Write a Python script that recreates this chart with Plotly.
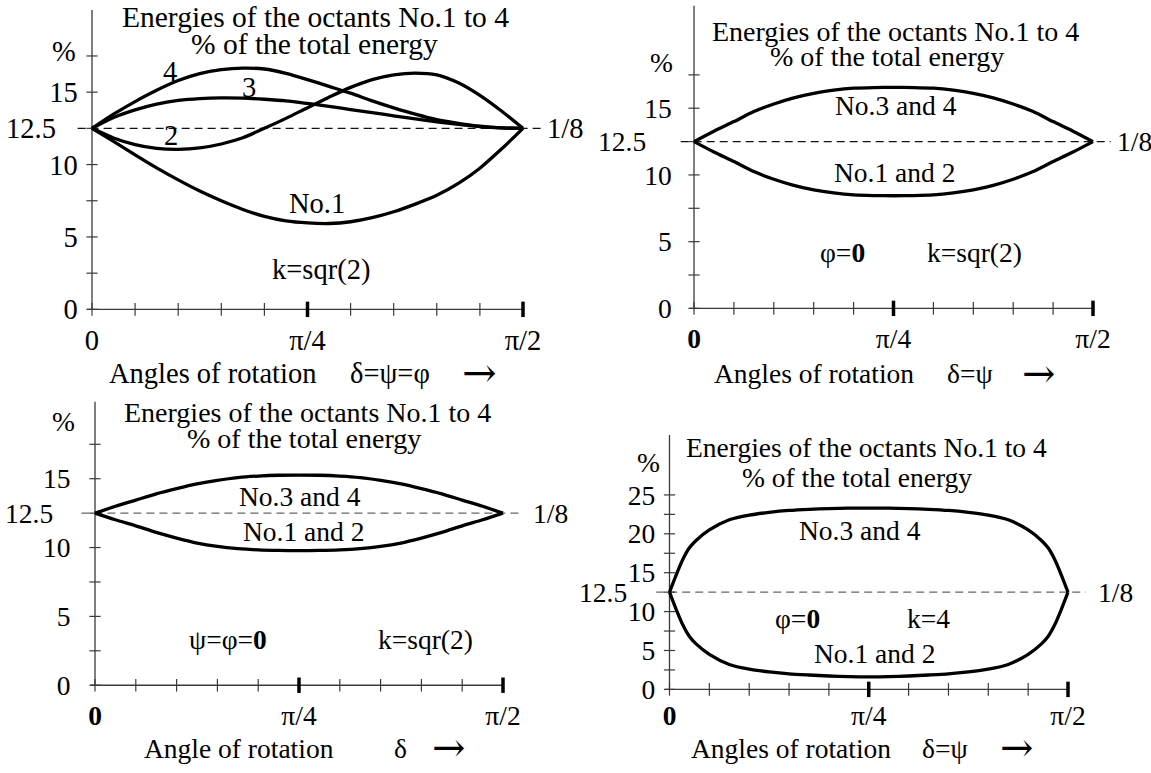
import plotly.graph_objects as go

W, H = 1151, 773
SERIF = "Liberation Serif"
ARROW_FONT = "DejaVu Serif"

# Angles of rotation in degrees (90 deg = pi/2); energies in % of the total energy
EQUAL_SHARE = 12.5  # 1/8 of the total energy

# delta = psi = phi, k = sqr(2): octants No.1 .. No.4
ang_diag = [0, 4.5, 9, 13.5, 18, 22.5, 27, 31.5, 36, 40.5, 45, 49.5, 54, 58.5, 63, 67.5, 72, 76.5, 81, 85.5, 90]
oct1_diag = [12.5, 11.6, 10.67, 9.77, 8.94, 8.17, 7.5, 6.9, 6.42, 6.11, 5.97, 5.93, 6.05, 6.33, 6.74, 7.27, 7.88, 8.7, 9.75, 11.07, 12.5]
oct2_diag = [12.5, 11.84, 11.38, 11.12, 11.05, 11.15, 11.42, 11.85, 12.5, 13.19, 13.93, 14.65, 15.33, 15.87, 16.2, 16.32, 16.2, 15.65, 14.78, 13.7, 12.5]
oct3_diag = [12.5, 13.25, 13.78, 14.18, 14.43, 14.56, 14.61, 14.59, 14.51, 14.4, 14.22, 14.02, 13.8, 13.59, 13.37, 13.15, 12.95, 12.77, 12.62, 12.53, 12.5]
oct4_diag = [12.5, 13.48, 14.35, 15.13, 15.8, 16.28, 16.55, 16.66, 16.6, 16.3, 15.87, 15.4, 14.93, 14.4, 13.92, 13.48, 13.1, 12.85, 12.65, 12.54, 12.5]

# delta = psi, phi = 0, k = sqr(2)
ang_dpsi = [0, 4.5, 9, 13.5, 18, 22.5, 27, 31.5, 36, 40.5, 45, 49.5, 54, 58.5, 63, 67.5, 72, 76.5, 81, 85.5, 90]
oct34_dpsi = [12.5, 13.28, 14.0, 14.75, 15.32, 15.78, 16.12, 16.35, 16.5, 16.55, 16.56, 16.55, 16.5, 16.35, 16.12, 15.78, 15.32, 14.75, 14.0, 13.28, 12.5]
oct12_dpsi = [12.5, 11.72, 11.0, 10.25, 9.68, 9.22, 8.88, 8.65, 8.5, 8.45, 8.44, 8.45, 8.5, 8.65, 8.88, 9.22, 9.68, 10.25, 11.0, 11.72, 12.5]

# delta only, psi = phi = 0, k = sqr(2)
ang_d = [0, 4.5, 9, 13.5, 18, 22.5, 27, 31.5, 36, 40.5, 45, 49.5, 54, 58.5, 63, 67.5, 72, 76.5, 81, 85.5, 90]
oct34_d = [12.5, 13.0, 13.45, 13.9, 14.28, 14.62, 14.88, 15.08, 15.19, 15.25, 15.26, 15.25, 15.19, 15.08, 14.88, 14.62, 14.28, 13.9, 13.45, 13.0, 12.5]
oct12_d = [12.5, 12.02, 11.58, 11.1, 10.69, 10.33, 10.08, 9.92, 9.83, 9.79, 9.78, 9.79, 9.83, 9.92, 10.08, 10.33, 10.69, 11.1, 11.58, 12.02, 12.5]

# delta = psi, phi = 0, k = 4
ang_k4 = [0, 1.5, 3, 4.5, 6, 9, 13.5, 18, 22.5, 27, 31.5, 36, 40.5, 45, 49.5, 54, 58.5, 63, 67.5, 72, 76.5, 81, 84, 85.5, 87, 88.5, 90]
oct34_k4 = [12.5, 14.7, 16.7, 18.2, 19.15, 20.5, 21.8, 22.4, 22.75, 23.0, 23.15, 23.25, 23.3, 23.3, 23.3, 23.25, 23.15, 23.0, 22.75, 22.4, 21.8, 20.5, 19.15, 18.2, 16.7, 14.7, 12.5]
oct12_k4 = [12.5, 10.3, 8.3, 6.8, 5.85, 4.5, 3.2, 2.6, 2.25, 2.0, 1.85, 1.72, 1.63, 1.6, 1.63, 1.72, 1.85, 2.0, 2.25, 2.6, 3.2, 4.5, 5.85, 6.8, 8.3, 10.3, 12.5]

# axis ticks
X_TICK_VALS = [0, 45, 90]
X_TICK_TEXT = ["0", "π/4", "π/2"]
X_TICK_TEXT_BOLD0 = ["<b>0</b>", "π/4", "π/2"]
X_MINOR_TICKS = [0, 9, 18, 27, 36, 54, 63, 72, 81]
X_MAJOR_TICKS = [45, 90]
Y_STEP = 2.5

TITLE_1 = "Energies of the octants No.1 to 4"
TITLE_2 = "% of the total energy"
ARROW = "→"

panels = [
    dict(x0=92, x90=523, y0=313, ppu=14.65, ytop=20.7, ylow=-0.6,
         ytick=[0, 5, 10, 15], yminor_max=17.5, ystand=-2, fs=28.5, tfs=29.5,
         xtext=X_TICK_TEXT, dash="#111", xlab_dy=29,
         curves=[(ang_diag, oct1_diag), (ang_diag, oct2_diag), (ang_diag, oct3_diag), (ang_diag, oct4_diag)],
         labels=[("4", 16.3, 16.45), ("3", 32.8, 15.3), ("2", 16.5, 12.0),
                 ("No.1", 47, 7.3), ("k=sqr(2)", 47.9, 2.7)],
         title=[(315, 17), (314, 45)], pct=(64, 52), eq_shift=-34, frac_shift=22,
         xtitle=[("Angles of rotation", 212, 378), ("δ=ψ=φ", 390, 378), (ARROW, 480, 377)]),
    dict(x0=694, x90=1093, y0=312, ppu=13.5, ytop=22.7, ylow=-0.6,
         ytick=[0, 5, 10, 15], yminor_max=17.5, ystand=7, fs=27.5, tfs=28,
         xtext=X_TICK_TEXT_BOLD0, dash="#111", xlab_dy=29,
         curves=[(ang_dpsi, oct34_dpsi), (ang_dpsi, oct12_dpsi)],
         labels=[("No.3 and 4", 45.6, 15.2), ("No.1 and 2", 45.2, 10.2),
                 ("φ=<b>0</b>", 33.4, 4.2), ("k=sqr(2)", 63.2, 4.2)],
         title=[(895, 32), (887, 57)], pct=(661, 63), eq_shift=-46, frac_shift=22,
         xtitle=[("Angles of rotation", 814, 378), ("δ=ψ", 970, 378), (ARROW, 1038, 377)]),
    dict(x0=95, x90=503, y0=693.3, ppu=13.93, ytop=20.6, ylow=-0.6,
         ytick=[0, 5, 10, 15], yminor_max=17.5, ystand=9, fs=27.5, tfs=28,
         xtext=X_TICK_TEXT_BOLD0, dash="#666", xlab_dy=28.5,
         curves=[(ang_d, oct34_d), (ang_d, oct12_d)],
         labels=[("No.3 and 4", 45.2, 13.73), ("No.1 and 2", 46, 11.15),
                 ("ψ=φ=<b>0</b>", 29.3, 3.3), ("k=sqr(2)", 72.8, 3.3)],
         title=[(307, 417), (304, 444)], pct=(64, 426), eq_shift=-40, frac_shift=28,
         xtitle=[("Angle of rotation", 239, 757), ("δ", 400, 757), (ARROW, 448, 756)]),
    dict(x0=669.5, x90=1068, y0=697.5, ppu=7.87, ytop=32.7, ylow=-0.9,
         ytick=[0, 5, 10, 15, 20, 25], yminor_max=25, ystand=-1, fs=27.5, tfs=27.5,
         xtext=X_TICK_TEXT_BOLD0, dash="#666", xlab_dy=25,
         curves=[(ang_k4, oct34_k4), (ang_k4, oct12_k4)],
         labels=[("No.3 and 4", 43, 20.4), ("φ=<b>0</b>", 28.8, 9.1),
                 ("k=4", 58.4, 9.1), ("No.1 and 2", 46.4, 4.64)],
         title=[(866, 453), (857, 483)], pct=(648, 468), eq_shift=-41, frac_shift=28,
         xtitle=[("Angles of rotation", 791, 757), ("δ=ψ", 945, 757), (ARROW, 1016, 756)]),
]

X_LO, X_HI = -3.2, 94.2
DASH_X = [-3.0, 94.0]
AXIS_COLOR = "#3a3a3a"

fig = go.Figure()
annotations = []
layout_axes = {}


def paper(xp, yp):
    return xp / W, 1 - yp / H


for i, p in enumerate(panels, start=1):
    xa = "x" if i == 1 else f"x{i}"
    ya = "y" if i == 1 else f"y{i}"
    fs = p["fs"]
    ppd = (p["x90"] - p["x0"]) / 90.0
    dom_x = [(p["x0"] + X_LO * ppd) / W, (p["x0"] + X_HI * ppd) / W]
    dom_y = [1 - (p["y0"] - p["ylow"] * p["ppu"]) / H, 1 - (p["y0"] - p["ytop"] * p["ppu"]) / H]
    x_stand = int(round(p["xlab_dy"] - abs(p["ylow"]) * p["ppu"] - 0.64 * fs))

    layout_axes["xaxis" if i == 1 else f"xaxis{i}"] = dict(
        domain=dom_x, range=[X_LO, X_HI], anchor=ya,
        showline=False, showgrid=False, zeroline=False, ticks="",
        tickmode="array", tickvals=X_TICK_VALS, ticktext=p["xtext"],
        ticklabelstandoff=x_stand,
        tickfont=dict(family=SERIF, size=fs, color="black"), fixedrange=True,
    )
    layout_axes["yaxis" if i == 1 else f"yaxis{i}"] = dict(
        domain=dom_y, range=[p["ylow"], p["ytop"]], anchor=xa,
        showline=False, showgrid=False, zeroline=False, ticks="",
        tickmode="array", tickvals=p["ytick"], ticktext=[str(v) for v in p["ytick"]],
        ticklabelstandoff=p["ystand"],
        tickfont=dict(family=SERIF, size=fs, color="black"), fixedrange=True,
    )

    common = dict(xaxis=xa, yaxis=ya, showlegend=False, hoverinfo="skip")

    # reference level 1/8
    fig.add_trace(go.Scatter(x=DASH_X, y=[EQUAL_SHARE, EQUAL_SHARE], mode="lines",
                             line=dict(color=p["dash"], width=1.2, dash="8px,5px"), **common))
    # axis lines
    fig.add_trace(go.Scatter(x=[-1.0, 90], y=[0, 0], mode="lines",
                             line=dict(color=AXIS_COLOR, width=1.3), **common))
    fig.add_trace(go.Scatter(x=[0, 0], y=[0, p["ytop"]], mode="lines",
                             line=dict(color=AXIS_COLOR, width=1.3), **common))
    # crossing tick marks
    n_y = int(round(p["yminor_max"] / Y_STEP))
    y_marks = [k * Y_STEP for k in range(n_y + 1)]
    fig.add_trace(go.Scatter(x=[0] * len(y_marks), y=y_marks, mode="markers", cliponaxis=False,
                             marker=dict(symbol="line-ew", size=8, line=dict(color=AXIS_COLOR, width=1.2)),
                             **common))
    fig.add_trace(go.Scatter(x=X_MINOR_TICKS, y=[0] * len(X_MINOR_TICKS), mode="markers", cliponaxis=False,
                             marker=dict(symbol="line-ns", size=9, line=dict(color=AXIS_COLOR, width=1.2)),
                             **common))
    fig.add_trace(go.Scatter(x=X_MAJOR_TICKS, y=[0] * len(X_MAJOR_TICKS), mode="markers", cliponaxis=False,
                             marker=dict(symbol="line-ns", size=11, line=dict(color="black", width=3.5)),
                             **common))

    # energy curves
    for xs, ys in p["curves"]:
        fig.add_trace(go.Scatter(x=xs, y=ys, mode="lines",
                                 line=dict(color="black", width=3.3, shape="spline", smoothing=0.7),
                                 **common))

    font = dict(family=SERIF, size=fs, color="black")
    for text, lx, ly in p["labels"]:
        annotations.append(dict(text=text, x=lx, y=ly, xref=xa, yref=ya, showarrow=False,
                                xanchor="center", yanchor="middle", font=font))
    annotations.append(dict(text="12.5", x=0, y=EQUAL_SHARE, xref=xa, yref=ya, showarrow=False,
                            xanchor="right", yanchor="middle", xshift=p["eq_shift"], font=font))
    annotations.append(dict(text="1/8", x=90, y=EQUAL_SHARE, xref=xa, yref=ya, showarrow=False,
                            xanchor="left", yanchor="middle", xshift=p["frac_shift"], font=font))

    title_font = dict(family=SERIF, size=p["tfs"], color="black")
    for text, (tx, ty) in zip([TITLE_1, TITLE_2], p["title"]):
        ax_, ay_ = paper(tx, ty)
        annotations.append(dict(text=text, x=ax_, y=ay_, xref="paper", yref="paper", showarrow=False,
                                xanchor="center", yanchor="middle", font=title_font))
    ax_, ay_ = paper(*p["pct"])
    annotations.append(dict(text="%", x=ax_, y=ay_, xref="paper", yref="paper", showarrow=False,
                            xanchor="center", yanchor="middle", font=font))
    for text, tx, ty in p["xtitle"]:
        ax_, ay_ = paper(tx, ty)
        if text == ARROW:
            tf = dict(family=ARROW_FONT, size=fs * 1.45, color="black")
        else:
            tf = font
        annotations.append(dict(text=text, x=ax_, y=ay_, xref="paper", yref="paper", showarrow=False,
                                xanchor="center", yanchor="middle", font=tf))

fig.update_layout(
    width=W, height=H, autosize=False,
    margin=dict(l=0, r=0, t=0, b=0),
    paper_bgcolor="white", plot_bgcolor="white",
    annotations=annotations,
    **layout_axes,
)

fig.write_html("out.html", config=dict(displayModeBar=False))
